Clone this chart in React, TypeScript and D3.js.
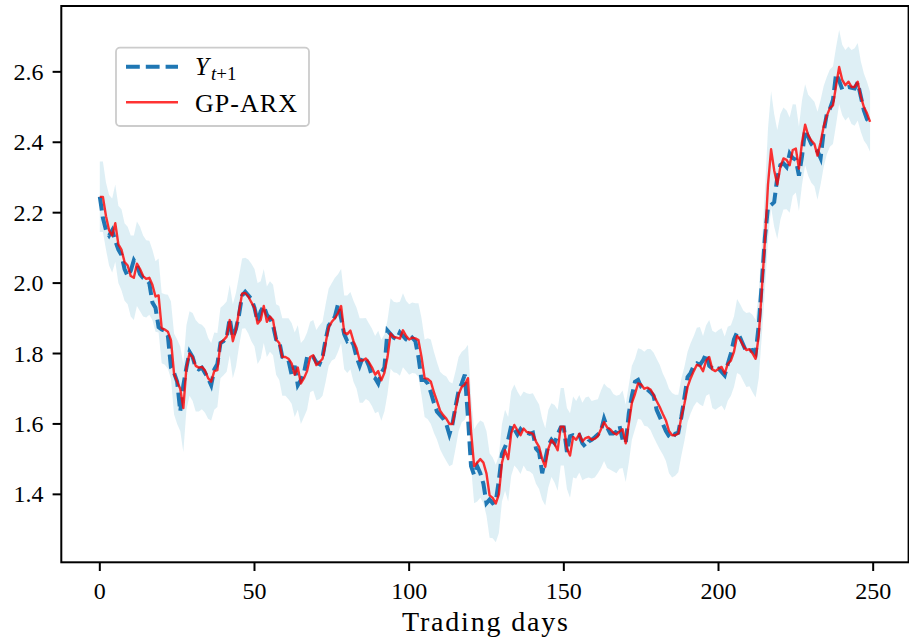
import React from 'react';
import * as d3 from 'd3';

// Actual next-day value Y_{t+1}
const Y_ACTUAL: number[] = [
  2.245, 2.185, 2.15, 2.135, 2.15, 2.12, 2.095, 2.08, 2.04, 2.02,
  2.035, 2.065, 2.05, 2.025, 2.015, 2.01, 2.0, 1.945, 1.93, 1.875,
  1.868, 1.865, 1.85, 1.76, 1.745, 1.72, 1.635, 1.71, 1.76, 1.805,
  1.79, 1.76, 1.755, 1.76, 1.745, 1.73, 1.71, 1.755, 1.77, 1.83,
  1.835, 1.845, 1.9, 1.845, 1.87, 1.91, 1.965, 1.975, 1.965, 1.955,
  1.93, 1.89, 1.92, 1.935, 1.91, 1.9, 1.88, 1.84, 1.835, 1.79,
  1.785, 1.78, 1.74, 1.765, 1.71, 1.725, 1.745, 1.79, 1.795, 1.79,
  1.775, 1.77, 1.79, 1.84, 1.88, 1.89, 1.905, 1.94, 1.9, 1.855,
  1.835, 1.84, 1.825, 1.79, 1.765, 1.79, 1.785, 1.765, 1.735, 1.73,
  1.715, 1.745, 1.76, 1.865, 1.855, 1.845, 1.84, 1.86, 1.85, 1.84,
  1.835, 1.845, 1.835, 1.79, 1.725, 1.725, 1.715, 1.69, 1.66, 1.635,
  1.625, 1.615, 1.6, 1.57, 1.6, 1.65, 1.695, 1.715, 1.74, 1.62,
  1.48, 1.455, 1.48, 1.46, 1.43, 1.375, 1.385, 1.375, 1.38, 1.44,
  1.515, 1.535, 1.555, 1.595, 1.585, 1.57, 1.585, 1.575, 1.575, 1.572,
  1.575, 1.53, 1.52, 1.46, 1.5, 1.54, 1.555, 1.545, 1.57, 1.59,
  1.59, 1.52, 1.565, 1.568, 1.563, 1.568, 1.545, 1.535, 1.55, 1.555,
  1.562, 1.57, 1.58, 1.615, 1.59, 1.573, 1.573, 1.578, 1.595, 1.555,
  1.545, 1.63, 1.68, 1.72, 1.725, 1.705, 1.7, 1.698, 1.69, 1.68,
  1.64, 1.62, 1.6, 1.58, 1.565, 1.558, 1.572, 1.575, 1.62, 1.676,
  1.733, 1.745, 1.765, 1.772, 1.768, 1.78, 1.8, 1.765, 1.758, 1.753,
  1.757, 1.748, 1.738, 1.77, 1.8, 1.84, 1.86, 1.845, 1.825, 1.805,
  1.808, 1.81, 1.8, 1.88, 2.0, 2.13, 2.215, 2.222, 2.23, 2.3,
  2.335, 2.34, 2.33, 2.368, 2.355, 2.35, 2.305, 2.36, 2.435, 2.415,
  2.395, 2.385, 2.375, 2.355, 2.43, 2.48, 2.495, 2.52, 2.595, 2.575,
  2.55, 2.555, 2.557, 2.555, 2.553, 2.57, 2.53, 2.49, 2.465, 2.458,
];

// GP-ARX predictive mean
const GP_ARX: number[] = [
  2.245, 2.245, 2.19, 2.15, 2.135, 2.17, 2.11, 2.095, 2.06, 2.05,
  2.02, 2.015, 2.055, 2.04, 2.02, 2.012, 2.015, 1.995, 1.962, 1.965,
  1.872, 1.868, 1.862, 1.838, 1.742, 1.72, 1.7, 1.645, 1.76, 1.8,
  1.79, 1.765, 1.76, 1.762, 1.752, 1.73, 1.72, 1.75, 1.753, 1.83,
  1.838, 1.848, 1.895, 1.835, 1.867, 1.92, 1.97, 1.972, 1.962, 1.945,
  1.93, 1.885, 1.895, 1.935, 1.89, 1.905, 1.895, 1.84, 1.83, 1.79,
  1.79, 1.785, 1.772, 1.74, 1.76, 1.715, 1.73, 1.75, 1.79, 1.795,
  1.767, 1.775, 1.785, 1.83, 1.875, 1.89, 1.9, 1.915, 1.935, 1.86,
  1.855, 1.865, 1.835, 1.815, 1.78, 1.78, 1.786, 1.775, 1.76, 1.74,
  1.75, 1.724, 1.745, 1.79, 1.857, 1.847, 1.845, 1.842, 1.866, 1.85,
  1.84, 1.845, 1.843, 1.838, 1.79, 1.73, 1.728, 1.72, 1.69, 1.665,
  1.638, 1.625, 1.615, 1.6, 1.6, 1.64, 1.685, 1.705, 1.712, 1.73,
  1.58, 1.48, 1.49, 1.5, 1.49, 1.459, 1.397, 1.39, 1.374, 1.4,
  1.49, 1.525, 1.5, 1.573, 1.597, 1.582, 1.568, 1.587, 1.577, 1.575,
  1.572, 1.55, 1.535, 1.5, 1.478, 1.53, 1.554, 1.544, 1.525, 1.592,
  1.592, 1.53, 1.51, 1.563, 1.555, 1.572, 1.55, 1.56, 1.563, 1.555,
  1.558, 1.565, 1.585, 1.605, 1.59, 1.585, 1.575, 1.57, 1.578, 1.585,
  1.545, 1.6, 1.66, 1.685, 1.715, 1.712, 1.7, 1.703, 1.698, 1.683,
  1.665, 1.648, 1.628, 1.61, 1.58, 1.568, 1.568, 1.573, 1.62, 1.658,
  1.705, 1.73, 1.75, 1.768, 1.765, 1.75, 1.78, 1.79, 1.755, 1.75,
  1.757, 1.762, 1.743, 1.771, 1.78, 1.805, 1.85, 1.84, 1.822, 1.81,
  1.812, 1.8, 1.785, 1.85, 1.98, 2.12, 2.28, 2.38, 2.32, 2.28,
  2.33, 2.354, 2.35, 2.335, 2.378, 2.382, 2.325, 2.4, 2.45, 2.42,
  2.405, 2.395, 2.362, 2.4, 2.445, 2.475, 2.497, 2.505, 2.56, 2.614,
  2.577, 2.562, 2.572, 2.557, 2.557, 2.572, 2.53, 2.5, 2.482, 2.458,
];

// Half-width of the GP confidence band
const BAND_HALF: number[] = [
  0.10, 0.10, 0.095, 0.10, 0.105, 0.11, 0.11, 0.115, 0.11, 0.11,
  0.115, 0.12, 0.12, 0.12, 0.115, 0.11, 0.105, 0.10, 0.10, 0.105,
  0.10, 0.10, 0.105, 0.11, 0.115, 0.12, 0.12, 0.125, 0.12, 0.12,
  0.125, 0.13, 0.125, 0.12, 0.12, 0.115, 0.11, 0.11, 0.105, 0.10,
  0.10, 0.10, 0.10, 0.105, 0.105, 0.10, 0.10, 0.10, 0.105, 0.11,
  0.11, 0.115, 0.11, 0.105, 0.10, 0.10, 0.10, 0.10, 0.105, 0.11,
  0.11, 0.115, 0.115, 0.12, 0.12, 0.115, 0.11, 0.11, 0.10, 0.10,
  0.10, 0.105, 0.105, 0.11, 0.11, 0.11, 0.115, 0.11, 0.105, 0.105,
  0.11, 0.11, 0.115, 0.115, 0.12, 0.12, 0.115, 0.11, 0.11, 0.11,
  0.115, 0.115, 0.11, 0.105, 0.10, 0.10, 0.10, 0.105, 0.105, 0.10,
  0.10, 0.10, 0.10, 0.105, 0.11, 0.11, 0.115, 0.12, 0.115, 0.11,
  0.11, 0.115, 0.12, 0.12, 0.115, 0.11, 0.105, 0.10, 0.10, 0.095,
  0.10, 0.105, 0.11, 0.11, 0.115, 0.12, 0.12, 0.115, 0.11, 0.11,
  0.11, 0.115, 0.12, 0.12, 0.115, 0.11, 0.11, 0.105, 0.11, 0.11,
  0.115, 0.12, 0.12, 0.115, 0.11, 0.11, 0.105, 0.11, 0.115, 0.11,
  0.11, 0.115, 0.12, 0.115, 0.11, 0.11, 0.11, 0.115, 0.115, 0.11,
  0.11, 0.105, 0.11, 0.11, 0.115, 0.115, 0.11, 0.11, 0.105, 0.11,
  0.11, 0.11, 0.105, 0.10, 0.10, 0.10, 0.105, 0.11, 0.115, 0.12,
  0.12, 0.12, 0.115, 0.115, 0.12, 0.12, 0.115, 0.11, 0.11, 0.105,
  0.10, 0.10, 0.10, 0.105, 0.11, 0.10, 0.10, 0.105, 0.11, 0.11,
  0.11, 0.11, 0.105, 0.105, 0.10, 0.10, 0.105, 0.10, 0.10, 0.105,
  0.105, 0.11, 0.11, 0.12, 0.13, 0.14, 0.16, 0.165, 0.16, 0.155,
  0.15, 0.145, 0.14, 0.135, 0.13, 0.125, 0.12, 0.12, 0.115, 0.115,
  0.12, 0.12, 0.125, 0.12, 0.115, 0.11, 0.11, 0.11, 0.11, 0.105,
  0.10, 0.10, 0.10, 0.105, 0.11, 0.11, 0.10, 0.095, 0.09, 0.085,
];

const X_TICKS: number[] = [0, 50, 100, 150, 200, 250];
const Y_TICKS: number[] = [1.4, 1.6, 1.8, 2.0, 2.2, 2.4, 2.6];
const X_LIMITS: [number, number] = [-12.45, 261.45];
const Y_LIMITS: [number, number] = [1.207, 2.787];
const X_LABEL = 'Trading days';
const SERIES_GP = 'GP-ARX';

const FONT = '"Liberation Serif", "Times New Roman", serif';

export default function App() {
  const W = 909;
  const H = 644;
  const left = 61.3;
  const right = 908.6;
  const top = 6;
  const bottom = 562.3;

  const x = d3.scaleLinear().domain(X_LIMITS).range([left, right]);
  const y = d3.scaleLinear().domain(Y_LIMITS).range([bottom, top]);
  const idx = d3.range(Y_ACTUAL.length);

  const band = d3
    .area<number>()
    .x((i) => x(i))
    .y0((i) => y(GP_ARX[i] - BAND_HALF[i]))
    .y1((i) => y(GP_ARX[i] + BAND_HALF[i]));
  const actualLine = d3
    .line<number>()
    .x((i) => x(i))
    .y((i) => y(Y_ACTUAL[i]));
  const gpLine = d3
    .line<number>()
    .x((i) => x(i))
    .y((i) => y(GP_ARX[i]));

  const tickLen = 8.7;

  return (
    <svg
      width={W}
      height={H}
      viewBox={`0 0 ${W} ${H}`}
      style={{ position: 'absolute', left: 0, top: 0, background: '#fff' }}
      fontFamily={FONT}
    >
      <defs>
        <clipPath id="plotclip">
          <rect x={left} y={top} width={right - left} height={bottom - top} />
        </clipPath>
      </defs>
      <rect x={0} y={0} width={W} height={H} fill="#fff" />
      <g clipPath="url(#plotclip)">
        <path d={band(idx) || ''} fill="#ADD8E6" fillOpacity={0.4} stroke="none" />
        <path
          d={actualLine(idx) || ''}
          fill="none"
          stroke="#1f77b4"
          strokeWidth={4}
          strokeDasharray="13.8 6"
        />
        <path
          d={gpLine(idx) || ''}
          fill="none"
          stroke="red"
          strokeOpacity={0.8}
          strokeWidth={2.4}
          strokeLinejoin="round"
        />
      </g>

      {/* spines */}
      <rect
        x={left}
        y={top}
        width={right - left}
        height={bottom - top}
        fill="none"
        stroke="#000"
        strokeWidth={2}
      />

      {/* x ticks */}
      {X_TICKS.map((t) => (
        <g key={`xt${t}`}>
          <line x1={x(t)} x2={x(t)} y1={bottom} y2={bottom + tickLen} stroke="#000" strokeWidth={2} />
          <text x={x(t)} y={599} fontSize={24} textAnchor="middle" fill="#000">
            {t}
          </text>
        </g>
      ))}

      {/* y ticks */}
      {Y_TICKS.map((t) => (
        <g key={`yt${t}`}>
          <line x1={left - tickLen} x2={left} y1={y(t)} y2={y(t)} stroke="#000" strokeWidth={2} />
          <text x={43.5} y={y(t) + 8} fontSize={24} textAnchor="end" fill="#000">
            {t.toFixed(1)}
          </text>
        </g>
      ))}

      <text
        x={(left + right) / 2}
        y={631}
        fontSize={28}
        textAnchor="middle"
        fill="#000"
        textLength={166}
        lengthAdjust="spacing"
      >
        {X_LABEL}
      </text>

      {/* legend */}
      <g>
        <rect
          x={116}
          y={47.7}
          width={193}
          height={78.3}
          rx={4}
          fill="#fff"
          fillOpacity={0.8}
          stroke="#cccccc"
          strokeWidth={1.8}
        />
        <line x1={126} x2={178} y1={66.7} y2={66.7} stroke="#1f77b4" strokeWidth={4} strokeDasharray="13.8 6" />
        <text x={195} y={75} fontSize={25} fill="#000">
          <tspan fontStyle="italic">Y</tspan>
          <tspan fontSize={19} dy={5} dx={2}>
            <tspan fontStyle="italic">t</tspan>
            <tspan>+1</tspan>
          </tspan>
        </text>
        <line x1={126} x2={178} y1={102.3} y2={102.3} stroke="red" strokeOpacity={0.8} strokeWidth={2.4} />
        <text x={195} y={111.7} fontSize={26} fill="#000" textLength={102} lengthAdjust="spacing">
          {SERIES_GP}
        </text>
      </g>
    </svg>
  );
}
